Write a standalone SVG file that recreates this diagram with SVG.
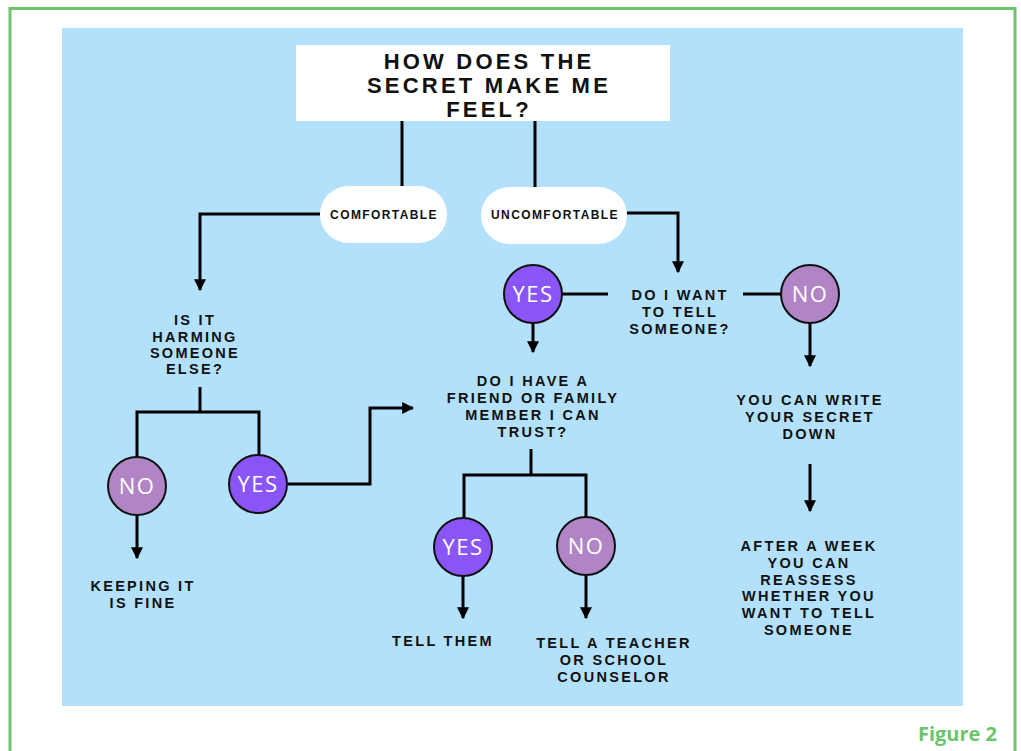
<svg xmlns="http://www.w3.org/2000/svg" width="1021" height="751" viewBox="0 0 1021 751">
<defs>
<marker id="ah" viewBox="0 0 10 10" refX="9" refY="5" markerWidth="4" markerHeight="4" markerUnits="strokeWidth" orient="auto">
<path d="M0,0 L10,5 L0,10 z" fill="#000"/>
</marker>
<style>
.ln{fill:none;stroke:#000;stroke-width:3}
.t{font-family:"Liberation Sans",Arial,sans-serif;font-weight:bold;font-size:14.5px;letter-spacing:2.3px;fill:#111;text-anchor:middle}
.pt{font-family:"Liberation Sans",Arial,sans-serif;font-weight:bold;font-size:12px;letter-spacing:1.4px;fill:#111;text-anchor:middle}
.ttl{font-family:"Liberation Sans",Arial,sans-serif;font-weight:bold;font-size:22px;letter-spacing:3.2px;fill:#111;text-anchor:middle}
.pill{fill:#fff}
.ct{font-family:"Open Sans","Liberation Sans",sans-serif;font-size:22px;fill:#fff;text-anchor:middle;letter-spacing:1.5px}
.yes{fill:#8a55f6;stroke:#111;stroke-width:2}
.no{fill:#b084c5;stroke:#111;stroke-width:2}
</style>
</defs>
<rect x="0" y="0" width="1021" height="751" fill="#fff"/>
<rect x="10" y="8.5" width="1005" height="760" fill="none" stroke="#6cc46c" stroke-width="3"/>
<rect x="62" y="28" width="901" height="678" fill="#b3e1fb"/>
<text x="997" y="741" font-family="Open Sans,Liberation Sans,sans-serif" font-weight="bold" font-size="20" fill="#6cc46c" text-anchor="end">Figure 2</text>

<g id="connectors">
<path class="ln" d="M402,121 V186"/>
<path class="ln" d="M535,121 V187"/>
<path class="ln" d="M320,214 H200 V290" marker-end="url(#ah)"/>
<path class="ln" d="M627,213 H678 V272" marker-end="url(#ah)"/>
<path class="ln" d="M562,294 H608"/>
<path class="ln" d="M743,294 H781"/>
<path class="ln" d="M533,323 V352" marker-end="url(#ah)"/>
<path class="ln" d="M810,323 V366" marker-end="url(#ah)"/>
<path class="ln" d="M200,387 V412"/>
<path class="ln" d="M137,457 V412 H259 V454"/>
<path class="ln" d="M288,484 H370 V408 H413" marker-end="url(#ah)"/>
<path class="ln" d="M137,515 V558" marker-end="url(#ah)"/>
<path class="ln" d="M531,449 V475"/>
<path class="ln" d="M464,518 V475 H586 V517"/>
<path class="ln" d="M463,576 V618" marker-end="url(#ah)"/>
<path class="ln" d="M586,575 V618" marker-end="url(#ah)"/>
<path class="ln" d="M810,464 V511" marker-end="url(#ah)"/>
</g>

<g id="title">
<rect x="296" y="45" width="374" height="76" fill="#fff"/>
<text class="ttl" x="489" y="69">HOW DOES THE</text>
<text class="ttl" x="489" y="93">SECRET MAKE ME</text>
<text class="ttl" x="489" y="117">FEEL?</text>
</g>
<g id="comfortable">
<rect class="pill" x="320" y="186" width="127" height="57" rx="28.5"/>
<text class="pt" x="384" y="219">COMFORTABLE</text>
</g>
<g id="uncomfortable">
<rect class="pill" x="481" y="187" width="146" height="57" rx="28.5"/>
<text class="pt" x="555" y="219">UNCOMFORTABLE</text>
</g>
<g id="want-yes">
<circle class="yes" cx="533" cy="294" r="29"/>
<text class="ct" x="533" y="302">YES</text>
</g>
<g id="want-tell">
<text class="t" x="680" y="300">DO I WANT</text>
<text class="t" x="680" y="317">TO TELL</text>
<text class="t" x="680" y="334">SOMEONE?</text>
</g>
<g id="want-no">
<circle class="no" cx="810" cy="294" r="29"/>
<text class="ct" x="810" y="302">NO</text>
</g>
<g id="harming">
<text class="t" x="195" y="325">IS IT</text>
<text class="t" x="195" y="342">HARMING</text>
<text class="t" x="195" y="358">SOMEONE</text>
<text class="t" x="195" y="374">ELSE?</text>
</g>
<g id="harm-no">
<circle class="no" cx="137" cy="486" r="29"/>
<text class="ct" x="137" y="494">NO</text>
</g>
<g id="harm-yes">
<circle class="yes" cx="258" cy="484" r="29"/>
<text class="ct" x="258" y="492">YES</text>
</g>
<g id="keeping">
<text class="t" x="143" y="591">KEEPING IT</text>
<text class="t" x="143" y="608">IS FINE</text>
</g>
<g id="trust">
<text class="t" x="533" y="386">DO I HAVE A</text>
<text class="t" x="533" y="403">FRIEND OR FAMILY</text>
<text class="t" x="533" y="420">MEMBER I CAN</text>
<text class="t" x="533" y="437">TRUST?</text>
</g>
<g id="trust-yes">
<circle class="yes" cx="463" cy="547" r="29"/>
<text class="ct" x="463" y="555">YES</text>
</g>
<g id="trust-no">
<circle class="no" cx="586" cy="546" r="29"/>
<text class="ct" x="586" y="554">NO</text>
</g>
<g id="tell-them">
<text class="t" x="443" y="646">TELL THEM</text>
</g>
<g id="tell-teacher">
<text class="t" x="614" y="648">TELL A TEACHER</text>
<text class="t" x="614" y="665">OR SCHOOL</text>
<text class="t" x="614" y="682">COUNSELOR</text>
</g>
<g id="write-down">
<text class="t" x="810" y="405">YOU CAN WRITE</text>
<text class="t" x="810" y="422">YOUR SECRET</text>
<text class="t" x="810" y="439">DOWN</text>
</g>
<g id="reassess">
<text class="t" x="809" y="551">AFTER A WEEK</text>
<text class="t" x="809" y="568">YOU CAN</text>
<text class="t" x="809" y="585">REASSESS</text>
<text class="t" x="809" y="601">WHETHER YOU</text>
<text class="t" x="809" y="618">WANT TO TELL</text>
<text class="t" x="809" y="635">SOMEONE</text>
</g>
</svg>
